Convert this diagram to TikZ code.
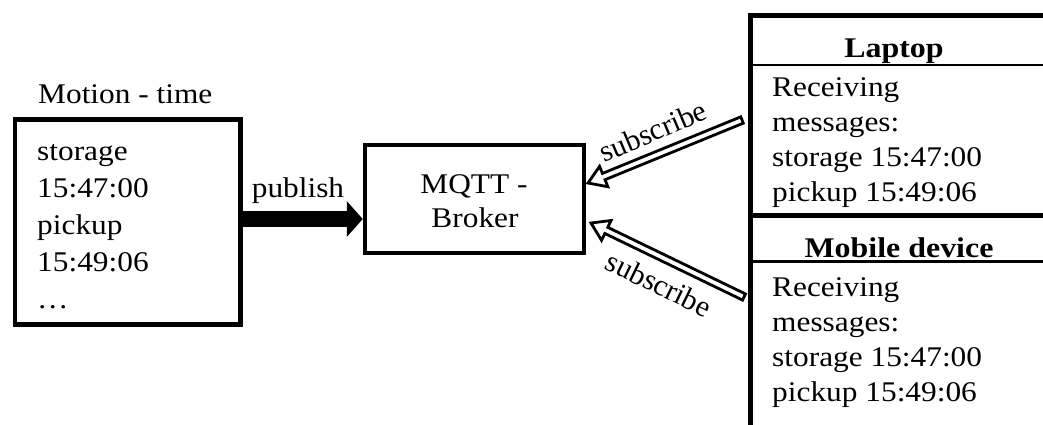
\documentclass[tikz,border=0pt]{standalone}
\usepackage{fontspec}
\setmainfont{Liberation Serif}
\usetikzlibrary{arrows.meta,calc}
% hollow block arrow from #1 (tail) to #2 (tip)
\newcommand\hollowarrow[2]{%
  \path ($(#2)!17pt!(#1)$) coordinate (hb);
  \draw[line width=2.8pt, line join=miter, fill=white]
    ($(#1)!3.4pt!90:(#2)$) -- ($(hb)!3.4pt!90:(#2)$) -- ($(hb)!11pt!90:(#2)$)
    -- (#2) -- ($(hb)!11pt!-90:(#2)$) -- ($(hb)!3.4pt!-90:(#2)$)
    -- ($(#1)!3.4pt!-90:(#2)$) -- cycle;}
\begin{document}
\begin{tikzpicture}[x=1pt,y=-1pt,
  fnt/.style={font=\fontsize{28.5}{34}\selectfont, xscale=1.1},
  txt/.style={fnt, inner sep=0pt, anchor=base west},
  ttl/.style={font=\fontsize{28.5}{34}\selectfont\bfseries, xscale=1.12, inner sep=0pt, anchor=base},
  box/.style={draw, line width=4.5pt, rectangle, inner sep=0pt},
  pubarrow/.style={line width=16.5pt, -{Triangle[length=16pt, width=35pt]}},
  divider/.style={line width=2.2pt}]
\useasboundingbox (0,0) rectangle (1043,424);
\clip (0,0) rectangle (1043,424);

% publisher
\node[txt] (srclbl) at (38,103) {Motion - time};
\node[box, minimum width=225.5pt, minimum height=205pt] (src) at (127.75,222) {};
\node[txt] (s1) at (37,160) {storage};
\node[txt] (s2) at (37,197.2) {15:47:00};
\node[txt] (s3) at (37,234.4) {pickup};
\node[txt] (s4) at (37,271.6) {15:49:06};
\node[txt] (s5) at (37,308.8) {\dots};

% broker
\node[box, minimum width=219pt, minimum height=108pt] (mqtt) at (474.5,199) {};
\node[txt, anchor=base] (b1) at (474,193) {MQTT -};
\node[txt, anchor=base] (b2) at (475,227) {Broker};

% publish connector
\coordinate (pub) at (0,219);
\draw[pubarrow] (src.east |- pub) -- (mqtt.west |- pub);
\node[txt, anchor=base] (publbl) at (298,197) {publish};

% subscribers
\node[box, line width=5pt, minimum width=310pt, minimum height=200pt] (lap) at (905,115.5) {};
\draw[divider] (lap.west |- 0,65) -- (lap.east |- 0,65);
\node[ttl] (laptitle) at (894,57) {Laptop};
\node[txt] (l1) at (772,96.7) {Receiving};
\node[txt] (l2) at (772,131.7) {messages:};
\node[txt] (l3) at (772,166.7) {storage 15:47:00};
\node[txt] (l4) at (772,201.7) {pickup 15:49:06};

\node[box, line width=5pt, minimum width=310pt, minimum height=240pt] (mob) at (905,335.5) {};
\draw[divider] (mob.west |- 0,261.5) -- (mob.east |- 0,261.5);
\node[ttl] (mobtitle) at (899,257) {Mobile device};
\node[txt] (m1) at (772,296.7) {Receiving};
\node[txt] (m2) at (772,331.7) {messages:};
\node[txt] (m3) at (772,366.7) {storage 15:47:00};
\node[txt] (m4) at (772,401.7) {pickup 15:49:06};

% subscribe connectors
\coordinate (lt) at (742,120);
\coordinate (lh) at (588,183);
\coordinate (mt) at (744,297);
\coordinate (mh) at (591,223);
\hollowarrow{lt}{lh}
\hollowarrow{mt}{mh}
\node[font=\fontsize{30}{35}\selectfont, inner sep=0pt, rotate=23] (sub1) at (653,131) {subscribe};
\node[font=\fontsize{30}{35}\selectfont, inner sep=0pt, rotate=-26] (sub2) at (659,284) {subscribe};
\end{tikzpicture}
\end{document}
